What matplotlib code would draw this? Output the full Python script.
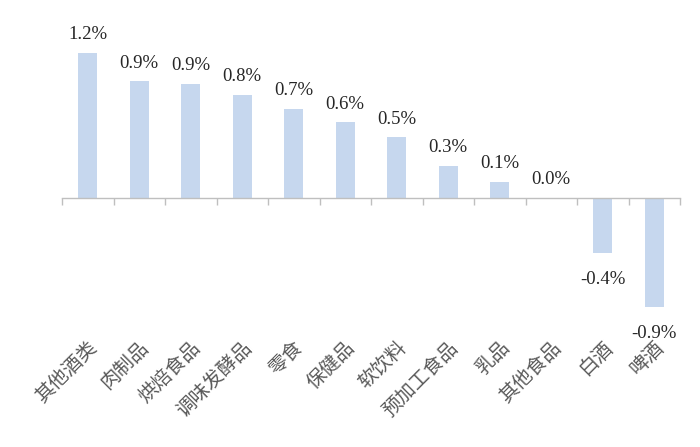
import matplotlib
matplotlib.use('Agg')
import matplotlib.pyplot as plt
import matplotlib.transforms as mtransforms
import numpy as np

plt.rcParams['font.family'] = ['Noto Sans CJK SC', 'DejaVu Sans']

# === DATA === #
categories = ['其他酒类', '肉制品', '烘焙食品', '调味发酵品', '零食', '保健品',
              '软饮料', '预加工食品', '乳品', '其他食品', '白酒', '啤酒']
values = [1.17, 0.94, 0.92, 0.83, 0.72, 0.61, 0.49, 0.26, 0.13, 0.0, -0.44, -0.88]   # %

bar_color = '#C6D7EE'
axis_color = '#BFBFBF'

fig = plt.figure(figsize=(7.0, 4.47), dpi=100)
ax = fig.add_axes([62 / 700, 0.2796, 618 / 700, 0.638])

x = np.arange(len(categories))
ax.bar(x, values, width=0.37, color=bar_color, zorder=2)

ax.set_xlim(-0.5, len(categories) - 0.5)
ax.set_ylim(-1.0, 1.3)

# axis line through zero, tick marks between categories
for s in ['top', 'right', 'left']:
    ax.spines[s].set_visible(False)
ax.spines['bottom'].set_position(('data', 0))
ax.spines['bottom'].set_color(axis_color)
ax.spines['bottom'].set_linewidth(1.0)
ax.set_yticks([])
ax.set_xticks(np.arange(-0.5, len(categories), 1.0))
ax.set_xticklabels([])
ax.tick_params(axis='x', direction='out', length=5, width=1.0, color=axis_color)

# value labels (serif numbers)
for xi, v in zip(x, values):
    lbl = f'{v:.1f}%'
    if v >= 0:
        ax.annotate(lbl, (xi, v), xytext=(0, 7), textcoords='offset points',
                    ha='center', va='bottom', fontsize=13.5,
                    family='Liberation Serif', color='#262626')
    else:
        ax.annotate(lbl, (xi, v), xytext=(0, -13), textcoords='offset points',
                    ha='center', va='top', fontsize=13.5,
                    family='Liberation Serif', color='#262626')

# category labels, rotated, at the bottom of the chart
trans = mtransforms.blended_transform_factory(ax.transData, fig.transFigure)
for xi, c in zip(x, categories):
    ax.text(xi - 0.02, (447 - 337) / 447, c, transform=trans, rotation=45,
            rotation_mode='anchor', ha='right', va='top', fontsize=14,
            color='#595959')

fig.savefig('out.png', dpi=100)
